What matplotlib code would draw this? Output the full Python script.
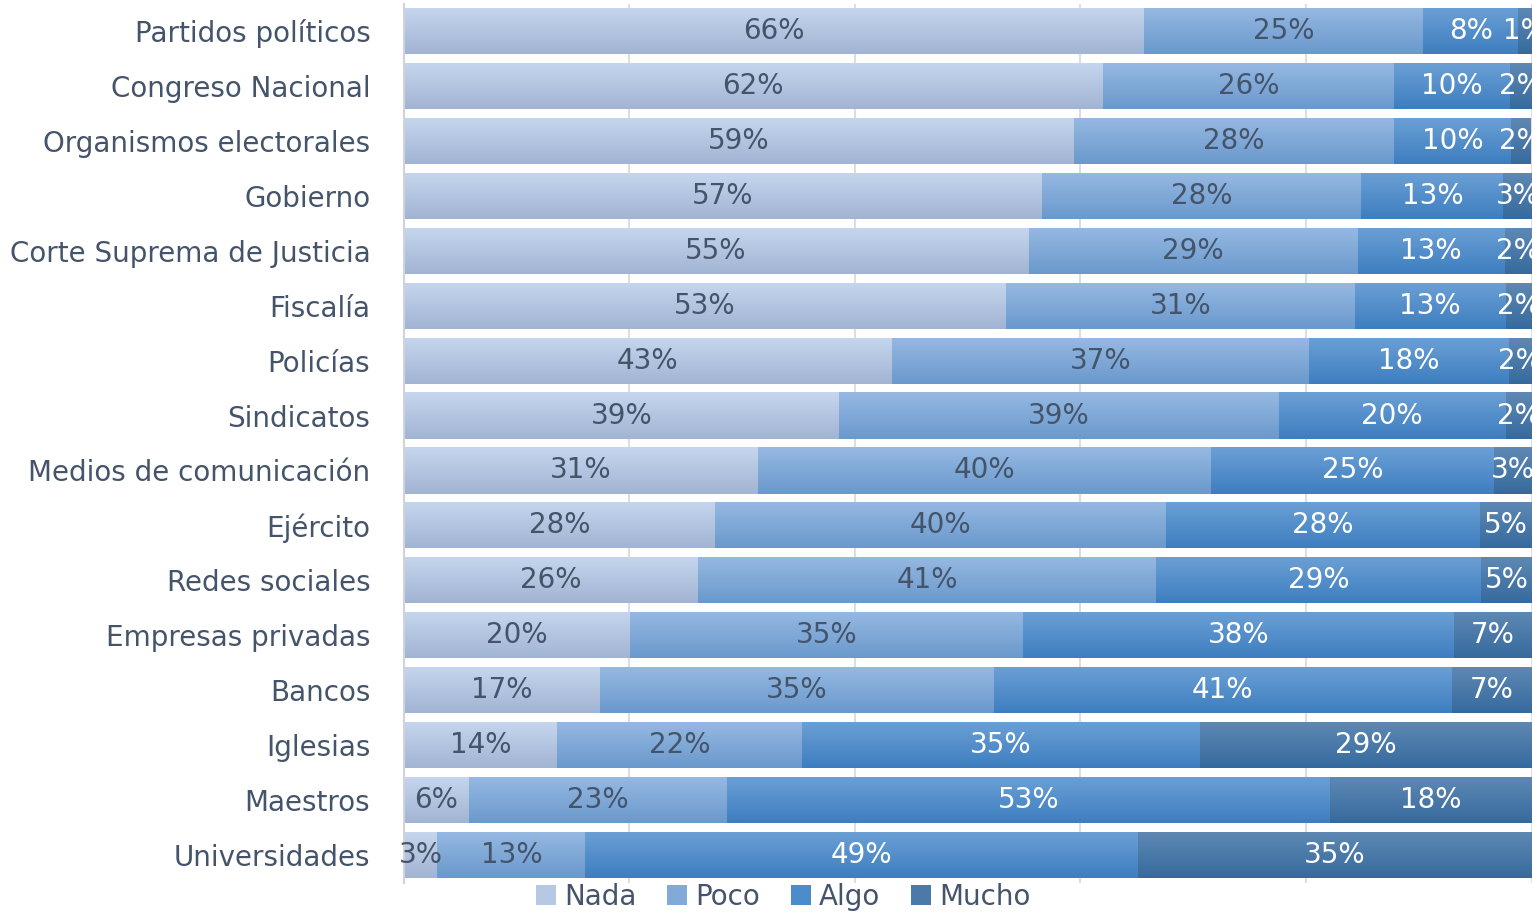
import os
import matplotlib
matplotlib.use("Agg")
import matplotlib.pyplot as plt
import numpy as np
from matplotlib.patches import Patch
from matplotlib import font_manager as fm

categories = ["Partidos políticos", "Congreso Nacional", "Organismos electorales", "Gobierno",
              "Corte Suprema de Justicia", "Fiscalía", "Policías", "Sindicatos",
              "Medios de comunicación", "Ejército", "Redes sociales", "Empresas privadas",
              "Bancos", "Iglesias", "Maestros", "Universidades"]
nada = [65.6, 62.0, 59.4, 56.6, 55.4, 53.4, 43.3, 38.6, 31.4, 27.6, 26.1, 20.1, 17.4, 13.6, 5.8, 3.0]
poco = [24.8, 25.8, 28.4, 28.3, 29.2, 30.9, 37.0, 39.0, 40.2, 40.0, 40.6, 34.8, 34.9, 21.7, 22.9, 13.1]
algo = [8.4, 10.3, 10.4, 12.6, 13.0, 13.4, 17.7, 20.1, 25.1, 27.8, 28.8, 38.2, 40.6, 35.3, 53.4, 49.0]
mucho = [1.3, 1.9, 1.7, 2.6, 2.4, 2.3, 2.0, 2.3, 3.3, 4.6, 4.6, 6.9, 7.1, 29.4, 17.9, 34.9]
series_names = ["Nada", "Poco", "Algo", "Mucho"]

# pick a narrow font file if available
prefs = ["liberationsansnarrow-regular", "arialn", "dejavusanscondensed.", "robotocondensed-regular",
         "liberationsans-regular"]
files = [f.fname for f in fm.fontManager.ttflist]
chosen = None
for p in prefs:
    for fn in files:
        if os.path.basename(fn).lower().startswith(p):
            chosen = fn
            break
    if chosen:
        break
if chosen is not None:
    fm.fontManager.addfont(chosen)
fam_name = fm.FontProperties(fname=chosen).get_name() if chosen else "DejaVu Sans"
plt.rcParams['font.family'] = [fam_name, "DejaVu Sans"]

grads = [("#c6d6ee", "#a1b4d3"), ("#96b9e3", "#6a99cc"), ("#6ca0d5", "#3d7ec0"), ("#5f89b4", "#366a9e")]
mids = ["#b6c8e4", "#82aad9", "#4d8cca", "#4a79aa"]
txtcols = ["#44546a", "#44546a", "white", "white"]
label_col = "#44546a"
FS = 20

W, H = 1532, 914
fig = plt.figure(figsize=(W / 100, H / 100), dpi=100)
x0, x1 = 403.6, 1531.6
top_px, bot_px = 3.5, 882.5
ax = fig.add_axes([x0 / W, 1 - bot_px / H, (x1 - x0) / W, (bot_px - top_px) / H])

data = [nada, poco, algo, mucho]
y = np.arange(len(categories))
bh = 0.84
left = np.zeros(len(categories))
for si, vals in enumerate(data):
    vals = np.array(vals, dtype=float)
    bars = ax.barh(y, vals, left=left, height=bh, color="none", edgecolor="none", zorder=2)
    c1 = np.array(matplotlib.colors.to_rgb(grads[si][0]))
    c2 = np.array(matplotlib.colors.to_rgb(grads[si][1]))
    t = np.linspace(0, 1, 64)[:, None]
    grad = (c1[None, :] * (1 - t) + c2[None, :] * t)[:, None, :]
    for b, v, l in zip(bars, vals, left):
        bx, by, bw, bhh = b.get_x(), b.get_y(), b.get_width(), b.get_height()
        im = ax.imshow(grad, extent=(bx, bx + bw, by + bhh, by), origin="upper",
                       aspect="auto", zorder=2, interpolation="bilinear")
        im.set_clip_path(b)
        ax.text(l + v / 2, by + bhh / 2, f"{round(v):d}%", ha="center", va="center",
                fontsize=FS, color=txtcols[si], zorder=3)
    left += vals

ax.set_xlim(0, 100)
ax.set_ylim(len(categories) - 0.5, -0.5)
ax.set_yticks(y)
ax.set_yticklabels(categories, fontsize=FS, color=label_col)
ax.tick_params(axis="y", length=0, pad=24)
ax.set_xticks([0, 20, 40, 60, 80, 100])
ax.tick_params(axis="x", length=0, labelbottom=False)
ax.grid(axis="x", color="#dcdee3", linewidth=1.5, zorder=0)
ax.set_axisbelow(True)
for s in ["top", "right", "bottom"]:
    ax.spines[s].set_visible(False)
ax.spines["left"].set_color("#d0d4da")
ax.spines["left"].set_linewidth(1.5)

handles = [Patch(facecolor=mids[i], edgecolor="none", label=series_names[i]) for i in range(4)]
leg = fig.legend(handles=handles, loc="center", bbox_to_anchor=(783 / W, 1 - 897 / H), ncol=4,
                 frameon=False, fontsize=FS, handlelength=0.72, handleheight=0.72,
                 handletextpad=0.3, columnspacing=1.1, borderaxespad=0, borderpad=0)
for tx in leg.get_texts():
    tx.set_color(label_col)

fig.savefig("out.png", dpi=100)
